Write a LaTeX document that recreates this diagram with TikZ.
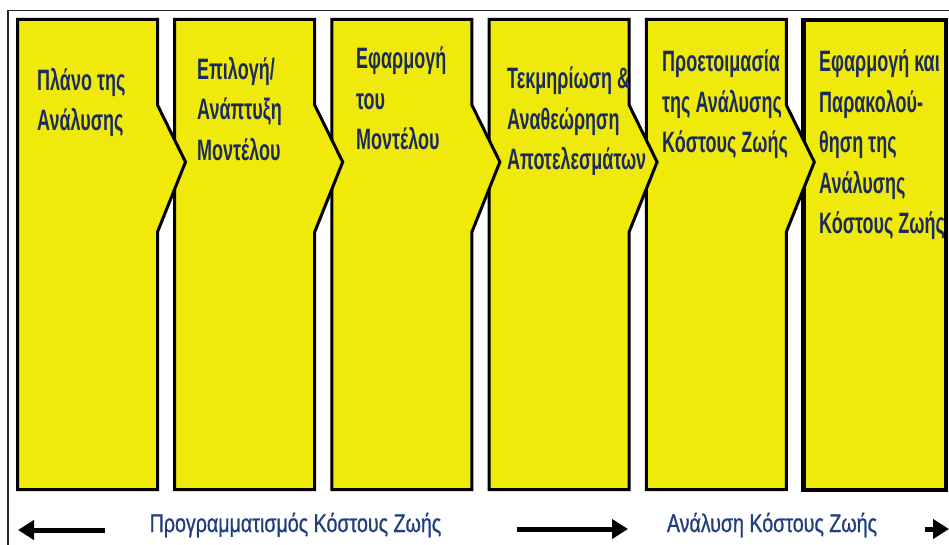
\documentclass[tikz,border=0pt]{standalone}
\usepackage{fontspec}
\usetikzlibrary{arrows.meta}

% condensed sans faces for the stage and phase labels
\newfontfamily\stagefont[FakeStretch=0.61]{Liberation Sans}
\newfontfamily\phasefont[FakeStretch=0.77,FakeBold=0.8]{Liberation Sans}

\definecolor{stageyellow}{RGB}{240,234,10}
\definecolor{stagetext}{RGB}{28,43,94}
\definecolor{phasetext}{RGB}{33,62,126}

\tikzset{
  stage/.style={fill=stageyellow, draw=black, line width=3pt, line join=miter},
  finalstage/.style={stage, line width=4.5pt},
  stagelabel/.style={anchor=north west, inner sep=0pt, align=left, text=stagetext,
    font=\stagefont\bfseries\fontsize{29.5}{40.5}\selectfont},
  phaselabel/.style={anchor=base, inner sep=0pt, text=phasetext,
    font=\phasefont\fontsize{25.5}{30}\selectfont},
  phasearrow/.style={draw=black, line width=5pt, -{Triangle[length=16pt,width=19pt]}},
  frameline/.style={draw=black!85, line width=1.5pt}
}

\begin{document}
\begin{tikzpicture}[x=1pt, y=-1pt]
  \useasboundingbox[fill=white] (0,0) rectangle (949,545);

  % open frame: top and left rule
  \draw[frameline] (8,545) -- (8,10.5) -- (949,10.5);

  % last stage: plain box with a heavier outline
  \draw[finalstage] (803.5,20) rectangle (946,490);

  % chevron stages, right to left so each point lies over its neighbour
  \foreach \i in {5,4,3,2,1} {
    \pgfmathsetmacro\L{17.5+157.2*(\i-1)}
    \pgfmathsetmacro\R{\L+140}
    \draw[stage] (\L,19.5) -- (\R,19.5) -- (\R,105) -- (\R+28,162)
      -- (\R,232) -- (\R,489.5) -- (\L,489.5) -- cycle;
  }

  % stage titles
  \node[stagelabel] (plan)    at (37,68)  {Πλάνο της\\Ανάλυσης};
  \node[stagelabel] (select)  at (197,57) {Επιλογή/\\Ανάπτυξη\\Μοντέλου};
  \node[stagelabel] (apply)   at (356,47) {Εφαρμογή\\του\\Μοντέλου};
  \node[stagelabel] (review)  at (507,67) {Τεκμηρίωση \&\\Αναθεώρηση\\Αποτελεσμάτων};
  \node[stagelabel] (prepare) at (662,50) {Προετοιμασία\\της Ανάλυσης\\Κόστους Ζωής};
  \node[stagelabel] (monitor) at (819,50) {Εφαρμογή και\\Παρακολού-\\θηση της\\Ανάλυσης\\Κόστους Ζωής};

  % phase captions
  \node[phaselabel] (planning) at (295.5,532) {Προγραμματισμός Κόστους Ζωής};
  \node[phaselabel] (analysis) at (772,532)   {Ανάλυση Κόστους Ζωής};

  % phase arrows
  \coordinate (leftTail)  at (105,530);
  \coordinate (leftHead)  at (18,530);
  \coordinate (midTail)   at (517,529);
  \coordinate (midHead)   at (628,529);
  \coordinate (rightTail) at (925,529);
  \coordinate (rightHead) at (949,529);
  \draw[phasearrow] (leftTail) -- (leftHead);
  \draw[phasearrow] (midTail) -- (midHead);
  \draw[phasearrow] (rightTail) -- (rightHead);
\end{tikzpicture}
\end{document}
